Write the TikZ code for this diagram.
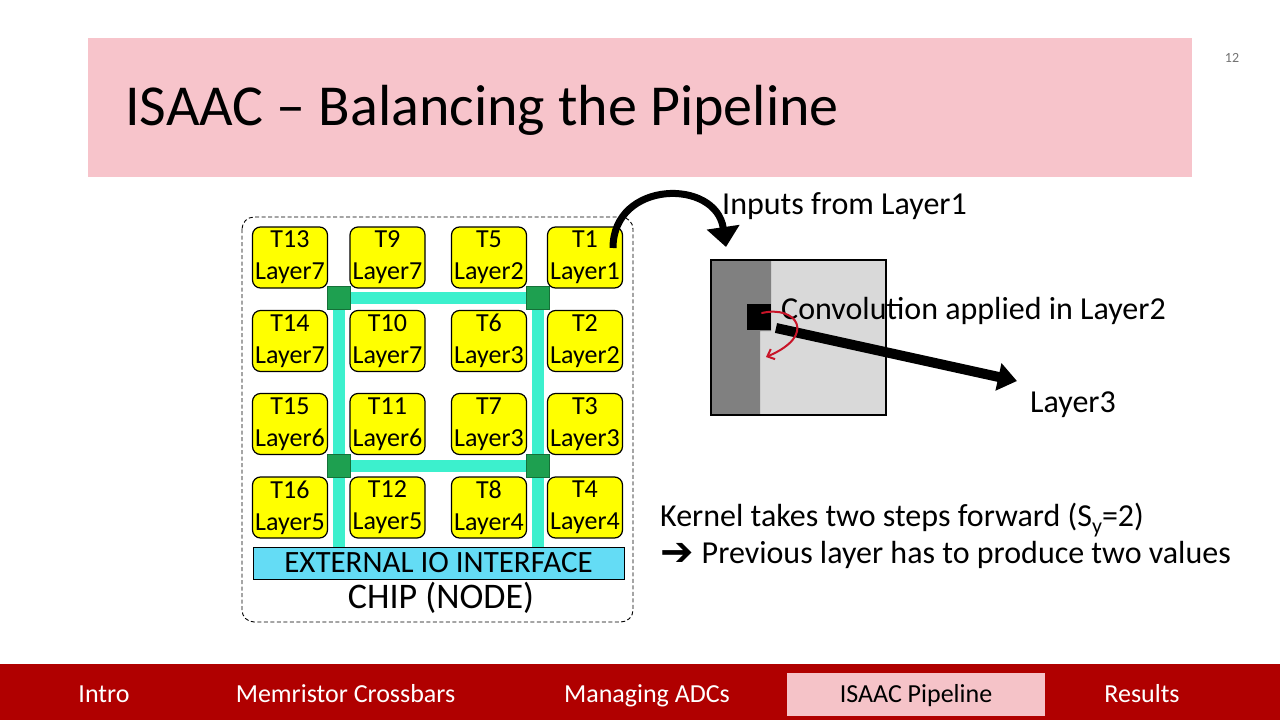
\documentclass[tikz,border=0pt]{standalone}
\usepackage{fontspec}
\setmainfont{Carlito}
\newfontfamily\djv{DejaVu Sans}
\usetikzlibrary{arrows.meta}
\definecolor{titlepink}{RGB}{247,196,203}
\definecolor{navred}{RGB}{176,0,0}
\definecolor{navpink}{RGB}{245,195,200}
\definecolor{tileyellow}{RGB}{255,255,0}
\definecolor{netc}{RGB}{60,240,205}
\definecolor{routerg}{RGB}{30,160,80}
\definecolor{iocyan}{RGB}{100,220,245}
\definecolor{lightg}{RGB}{217,217,217}
\definecolor{darkg}{RGB}{128,128,128}
\definecolor{redc}{RGB}{200,20,40}
\newcommand{\fsz}[1]{\fontsize{#1}{#1}\selectfont}
\tikzset{
  tile/.style={draw=black, line width=1.2pt, fill=tileyellow, rounded corners=8pt,
    minimum width=75pt, minimum height=61pt, inner sep=0pt, align=center,
    font=\fontsize{26}{32}\selectfont},
  router/.style={draw=routerg!70!black, line width=0.6pt, fill=routerg, minimum size=23pt, inner sep=0pt},
  netline/.style={draw=netc, line width=12pt},
  txt/.style={anchor=base west, inner sep=0pt, font=\fsz{32}},
  navtxt/.style={anchor=base, inner sep=0pt, font=\fsz{26}, text=white}
}
\begin{document}
\begin{tikzpicture}[x=1pt,y=-1pt]
\useasboundingbox (0,0) rectangle (1280,720);
\fill[white] (0,0) rectangle (1280,720);
% title
\fill[titlepink] (88,38) rectangle (1192,177);
\node[anchor=base west, inner sep=0pt, font=\fsz{58}] (title) at (125,125) {ISAAC – Balancing the Pipeline};
\node[font=\fsz{14}, text=black!55] (pnum) at (1232,58) {12};
% nav bar
\fill[navred] (0,664) rectangle (1280,720);
\fill[navpink] (787,673) rectangle (1045,716);
\node[navtxt] (n1) at (104,702) {Intro};
\node[navtxt] (n2) at (345.5,702) {Memristor Crossbars};
\node[navtxt] (n3) at (647,702) {Managing ADCs};
\node[navtxt, text=black] (n4) at (916,702) {ISAAC Pipeline};
\node[navtxt] (n5) at (1142,702) {Results};
% chip box
\draw[dashed, dash pattern=on 4pt off 2.5pt, line width=0.9pt, rounded corners=12pt] (242,217) rectangle (633,622);
% IO
\node[draw=black, line width=1pt, fill=iocyan, minimum width=371pt, minimum height=32pt, inner sep=0pt, font=\fsz{31}] (io) at (438.5,563) {EXTERNAL IO INTERFACE};
\node[inner sep=0pt, font=\fsz{36}] (chip) at (441,598) {CHIP (NODE)};
% routers positions
\coordinate (r1) at (339,298);
\coordinate (r2) at (538,298);
\coordinate (r3) at (339,466);
\coordinate (r4) at (538,466);
% network
\draw[netline] (r1) -- (r2);
\draw[netline] (r3) -- (r4);
\draw[netline] (r1) -- (r1 |- io.north);
\draw[netline] (r2) -- (r2 |- io.north);
\node[router] (R1) at (r1) {};
\node[router] (R2) at (r2) {};
\node[router] (R3) at (r3) {};
\node[router] (R4) at (r4) {};
% tiles
\node[tile] (t13) at (290,257.5) {T13\\Layer7};
\node[tile] (t9)  at (387.5,257.5) {T9\\Layer7};
\node[tile] (t5)  at (489,257.5) {T5\\Layer2};
\node[tile] (t1)  at (585,257.5) {T1\\Layer1};
\node[tile] (t14) at (290,341) {T14\\Layer7};
\node[tile] (t10) at (387.5,341) {T10\\Layer7};
\node[tile] (t6)  at (489,341) {T6\\Layer3};
\node[tile] (t2)  at (585,341) {T2\\Layer2};
\node[tile] (t15) at (290,424) {T15\\Layer6};
\node[tile] (t11) at (387.5,424) {T11\\Layer6};
\node[tile] (t7)  at (489,424) {T7\\Layer3};
\node[tile] (t3)  at (585,424) {T3\\Layer3};
\node[tile] (t16) at (290,507.5) {T16\\Layer5};
\node[tile] (t12) at (387.5,507.5) {T12\\Layer5};
\node[tile] (t8)  at (489,507.5) {T8\\Layer4};
\node[tile] (t4)  at (585,507.5) {T4\\Layer4};
% feature map
\node[fill=lightg, minimum width=175pt, minimum height=155pt, inner sep=0pt] (fmap) at (798.5,337.5) {};
\fill[darkg] (711,260) -- (771,260) -- (771,331) -- (760,331) -- (760,415) -- (711,415) -- cycle;
\node[fill=black, minimum width=24pt, minimum height=26pt, inner sep=0pt] (kern) at (759,317) {};
\draw[line width=1.5pt] (fmap.north west) rectangle (fmap.south east);
% texts
\node[txt] (inputs) at (722,214) {Inputs from Layer1};
\node[txt] (conv) at (781,319) {Convolution applied in Layer2};
\node[txt] (l3) at (1030,412) {Layer3};
\node[txt] (kernel) at (660,526) {Kernel takes two steps forward (S\raisebox{-7pt}{\fsz{22}y}=2)};
\node[txt] (prev) at (660,563) {{\djv\fsz{40}\raisebox{-2pt}{➔}}\hspace{8pt}Previous layer has to produce two values};
% arrows
\coordinate (src) at (613,248);
\coordinate (dst) at (726,247);
\draw[line width=7pt, -{Triangle[length=20pt,width=32pt]}] (src) .. controls (613,180) and (716,178) .. (dst);
\coordinate (kstart) at (776,328);
\coordinate (l3tip) at (1017,381);
\draw[line width=10pt, -{Triangle[length=19pt,width=27pt]}] (kstart) -- (l3tip);
\coordinate (rs) at (762,313);
\coordinate (re) at (766,357);
\draw[redc, line width=2pt, line cap=round, -{Straight Barb[length=6pt,width=11pt]}] (rs) .. controls (796,305) and (818,335) .. (re);
\end{tikzpicture}
\end{document}
